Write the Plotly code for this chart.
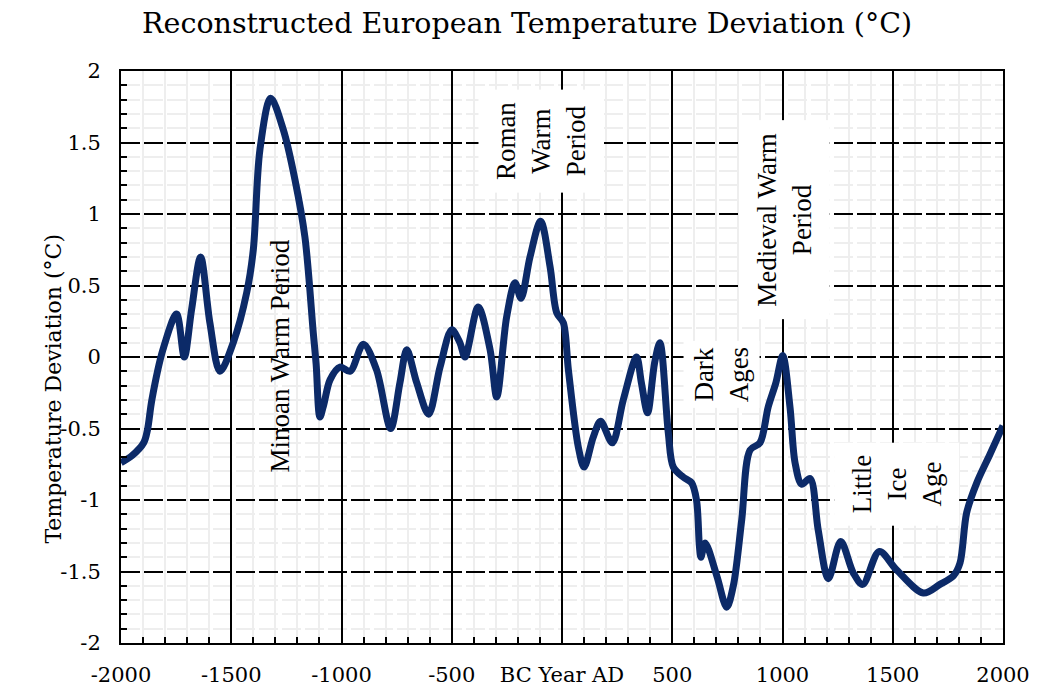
import plotly.graph_objects as go

# Reconstructed European temperature deviation
years = [-2000, -1950, -1897, -1880, -1860, -1810, -1748, -1713, -1680, -1639,
         -1597, -1551, -1491, -1430, -1400, -1370, -1321, -1264, -1211, -1166,
         -1128, -1115, -1098, -1080, -1052, -1007, -961, -901, -841, -777, -735,
         -704, -659, -605, -553, -500, -463, -440, -380, -326, -296,
         -251, -213, -186, -145, -97, -54, -24, 6, 29, 74,
         100, 142, 175, 228, 278, 338, 360, 388, 420, 444,
         482, 505, 550, 588, 610, 623, 630, 649, 702, 747,
         777, 815, 853, 898, 935, 970, 1001, 1034, 1057, 1087,
         1125, 1162, 1208, 1264, 1321, 1364, 1439, 1518, 1639, 1714,
         1775, 1805, 1835, 1881, 1941, 2000]
temps = [-0.74, -0.69, -0.60, -0.51, -0.30, 0.05, 0.30, 0.0, 0.33, 0.70,
         0.24, -0.10, 0.10, 0.45, 0.75, 1.45, 1.81, 1.59, 1.24, 0.84,
         0.17, -0.05, -0.42, -0.33, -0.16, -0.07, -0.10, 0.09, -0.09, -0.50, -0.18,
         0.05, -0.18, -0.40, -0.07, 0.19, 0.10, 0.0, 0.35, 0.05, -0.28,
         0.28, 0.52, 0.41, 0.70, 0.95, 0.63, 0.31, 0.24, -0.09, -0.63,
         -0.77, -0.56, -0.45, -0.60, -0.30, 0.0, -0.18, -0.39, -0.04, 0.10,
         -0.53, -0.77, -0.84, -0.88, -1.0, -1.32, -1.40, -1.30, -1.53, -1.75,
         -1.60, -1.14, -0.65, -0.60, -0.35, -0.18, 0.01, -0.35, -0.74, -0.89,
         -0.85, -1.21, -1.55, -1.29, -1.51, -1.59, -1.36, -1.49, -1.65, -1.59,
         -1.53, -1.44, -1.09, -0.88, -0.68, -0.48]

x_ticks = [-2000, -1500, -1000, -500, 0, 500, 1000, 1500, 2000]
x_labels = ['-2000', '-1500', '-1000', '-500', 'BC Year AD', '500', '1000', '1500', '2000']
y_ticks = [-2, -1.5, -1, -0.5, 0, 0.5, 1, 1.5, 2]
y_labels = ['-2', '-1.5', '-1', '-0.5', '0', '0.5', '1', '1.5', '2']

# period labels: text, year, temperature, box padding (None = no box)
periods = [
    ('Minoan Warm Period', -1279, 0.01, None),
    ('Roman<br>Warm<br>Period', -95, 1.51, 12),
    ('Dark<br>Ages', 722, -0.12, 5),
    ('Medieval Warm<br>Period', 1011, 0.96, 12),
    ('Little<br>Ice<br>Age', 1519, -0.89, 12),
]

serif = 'DejaVu Serif'
times = 'Liberation Serif'

fig = go.Figure()
fig.add_trace(go.Scatter(x=years, y=temps, mode='lines',
                         line=dict(color='#0c2a68', width=7, shape='spline', smoothing=0.9),
                         showlegend=False, hoverinfo='skip'))

for text, yr, t, pad in periods:
    fig.add_annotation(x=yr, y=t, text=text, showarrow=False, textangle=-90,
                       font=dict(family=times, size=27, color='black'),
                       bgcolor='white' if pad else 'rgba(0,0,0,0)',
                       borderpad=pad or 0)

# y axis title sits a little below the middle of the axis
fig.add_annotation(x=-0.094, y=0.444, xref='paper', yref='paper',
                   text='Temperature Deviation (°C)', showarrow=False, textangle=-90,
                   font=dict(family=serif, size=22, color='black'))

axis_common = dict(showline=True, linecolor='black', linewidth=2, mirror=True,
                   ticks='inside', ticklen=6, tickwidth=2, tickcolor='black',
                   zeroline=False, gridcolor='black', gridwidth=2, automargin=False,
                   tickfont=dict(family=serif, size=21, color='black'))

fig.update_xaxes(range=[-2000, 2000], tickvals=x_ticks, ticktext=x_labels,
                 griddash='solid', ticklabelstandoff=12,
                 minor=dict(dtick=100, ticks='inside', ticklen=6, tickwidth=2,
                            tickcolor='black', showgrid=True, gridcolor='#eeeeee', gridwidth=2),
                 **axis_common)
fig.update_yaxes(range=[-2, 2], tickvals=y_ticks, ticktext=y_labels,
                 griddash='19px,4px', ticklabelstandoff=14,
                 minor=dict(dtick=0.1, ticks='inside', ticklen=6, tickwidth=2,
                            tickcolor='black', showgrid=True, gridcolor='#eeeeee', gridwidth=2),
                 **axis_common)

fig.update_layout(
    width=1030, height=680,
    margin=dict(l=113, r=35, t=63, b=45),
    paper_bgcolor='white', plot_bgcolor='white',
    title=dict(text='Reconstructed European Temperature Deviation (°C)',
               x=0.504, xanchor='center', y=0.978, yanchor='middle',
               font=dict(family=serif, size=28.5, color='black')),
)

fig.write_html('out.html')
